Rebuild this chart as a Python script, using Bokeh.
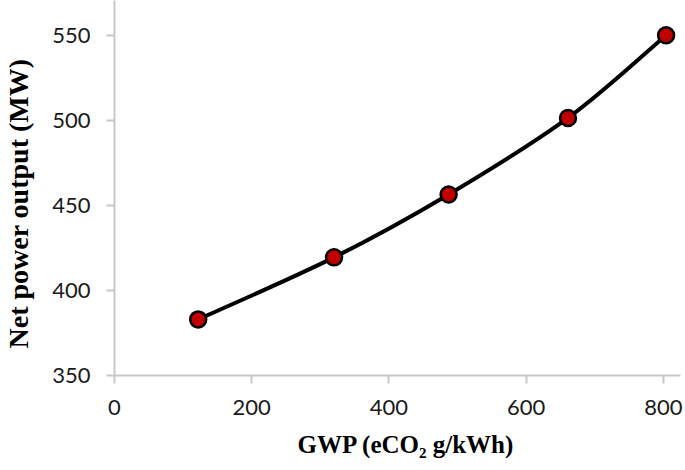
import numpy as np
from bokeh.plotting import figure
from bokeh.models import Range1d, FixedTicker, Title
from bokeh.embed import file_html
from bokeh.resources import INLINE

# Data
gwp = [122, 320, 487, 661, 804]
power = [383, 419.5, 456.5, 501.5, 550.2]
x_ticks = [0, 200, 400, 600, 800]
y_ticks = [350, 400, 450, 500, 550]

p = figure(width=685, height=470, output_backend="svg", toolbar_location=None,
           x_range=Range1d(0, 825), y_range=Range1d(350, 570.6),
           min_border_left=114, min_border_right=5, min_border_top=0, min_border_bottom=95)
p.outline_line_color = None
p.grid.visible = False
p.background_fill_color = "white"

# Smoothed line (Excel-style Catmull-Rom Bezier) built from the data
x = np.array(gwp, dtype=float)
y = np.array(power, dtype=float)
n = len(x)
xp = np.concatenate([[x[0]], x, [x[-1]]])
yp = np.concatenate([[y[0]], y, [y[-1]]])
x0, y0, x1, y1, cx0, cy0, cx1, cy1 = [], [], [], [], [], [], [], []
for i in range(n - 1):
    j = i + 1
    x0.append(x[i]); y0.append(y[i]); x1.append(x[i + 1]); y1.append(y[i + 1])
    cx0.append(x[i] + (xp[j + 1] - xp[j - 1]) / 6); cy0.append(y[i] + (yp[j + 1] - yp[j - 1]) / 6)
    cx1.append(x[i + 1] - (xp[j + 2] - xp[j]) / 6); cy1.append(y[i + 1] - (yp[j + 2] - yp[j]) / 6)
p.bezier(x0=x0, y0=y0, x1=x1, y1=y1, cx0=cx0, cy0=cy0, cx1=cx1, cy1=cy1,
         line_color="black", line_width=4)

p.scatter(gwp, power, size=16, fill_color="#c00000", line_color="black", line_width=2.5)

for ax in (p.xaxis[0], p.yaxis[0]):
    ax.axis_line_color = "#c8c8c8"
    ax.axis_line_width = 2
    ax.major_tick_line_color = "#c8c8c8"
    ax.major_tick_line_width = 2
    ax.major_tick_out = 8
    ax.major_tick_in = 0
    ax.minor_tick_line_color = None
    ax.major_label_text_font = "Lato"
    ax.major_label_text_font_size = "22px"
    ax.major_label_text_color = "#1a1a1a"

p.xaxis.ticker = FixedTicker(ticks=x_ticks)
p.yaxis.ticker = FixedTicker(ticks=y_ticks)
p.xaxis.major_label_standoff = 16
p.yaxis.major_label_standoff = 16

# thin spacers between axes and titles
p.add_layout(Title(text=" ", standoff=11, text_font_size="1px"), "left")
p.add_layout(Title(text=" ", standoff=8, text_font_size="1px"), "below")

ytitle = Title(text="Net power output (MW)", align="left", offset=27, standoff=0,
               vertical_align="top",
               text_font="Liberation Serif", text_font_style="bold",
               text_font_size="28px", text_color="black")
p.add_layout(ytitle, "left")

xtitle = Title(text="GWP (eCO\u2082 g/kWh)", align="left", offset=183, standoff=0,
               vertical_align="bottom",
               text_font="Liberation Serif", text_font_style="bold",
               text_font_size="25px", text_color="black")
p.add_layout(xtitle, "below")

open("out.html", "w").write(file_html(p, INLINE))
